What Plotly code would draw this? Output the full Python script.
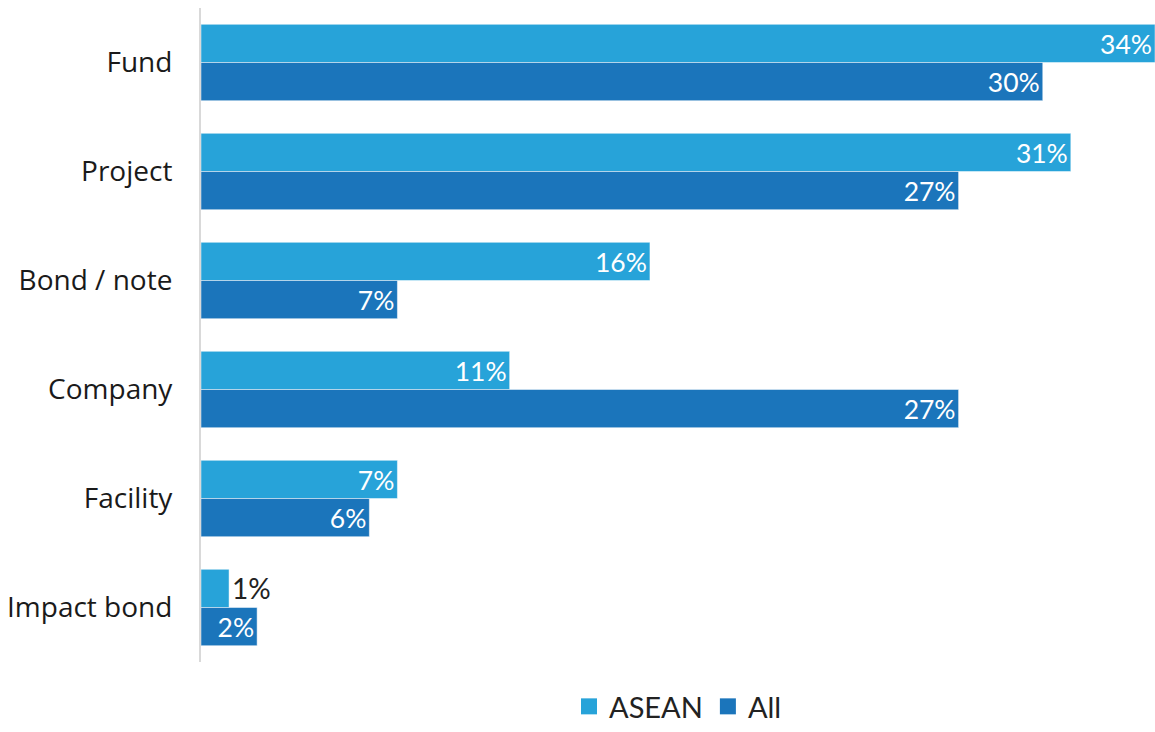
import plotly.graph_objects as go

categories = ["Fund", "Project", "Bond / note", "Company", "Facility", "Impact bond"]
asean = [34, 31, 16, 11, 7, 1]
all_deals = [30, 27, 7, 27, 6, 2]

ASEAN_COLOR = "#27A3D9"
ALL_COLOR = "#1B75BB"
LABEL_FONT = "Lato"
TEXT_COLOR = "#222222"


def positions(values, small=2):
    return ["outside" if v < small else "inside" for v in values]


fig = go.Figure()
for name, values, color in [("ASEAN", asean, ASEAN_COLOR), ("All", all_deals, ALL_COLOR)]:
    fig.add_trace(go.Bar(
        name=name, y=categories, x=values, orientation="h",
        marker=dict(color=color, line=dict(color="rgba(255,255,255,0.6)", width=0.8)),
        text=[f"{v}%" for v in values], textposition=positions(values),
        insidetextanchor="end",
        insidetextfont=dict(family=LABEL_FONT, size=28, color="white"),
        outsidetextfont=dict(family=LABEL_FONT, size=28, color=TEXT_COLOR),
        cliponaxis=False, showlegend=False,
    ))

# legend entries drawn as square markers
for name, color in [("ASEAN", ASEAN_COLOR), ("All", ALL_COLOR)]:
    fig.add_trace(go.Scatter(
        name=name, x=[None], y=[None], mode="markers",
        marker=dict(symbol="square", size=17, color=color),
        showlegend=True,
    ))

fig.update_layout(
    width=1155, height=732,
    margin=dict(l=201, r=0, t=8, b=70, autoexpand=False),
    barmode="group", bargap=0.30, bargroupgap=0,
    plot_bgcolor="white", paper_bgcolor="white",
    showlegend=True,
    legend=dict(
        orientation="h", x=0.5, xanchor="center",
        yref="container", y=0.0, yanchor="bottom",
        font=dict(family=LABEL_FONT, size=29, color=TEXT_COLOR),
        itemwidth=30, tracegroupgap=0,
    ),
    xaxis=dict(range=[0, 34], visible=False, fixedrange=True),
    yaxis=dict(
        autorange="reversed", showline=True, linecolor="#D9D9D9", linewidth=2,
        showgrid=False, ticks="", ticklabelstandoff=21,
        tickfont=dict(family="Open Sans", size=28, color="#1a1a1a"),
    ),
)

fig.write_html("out.html")
